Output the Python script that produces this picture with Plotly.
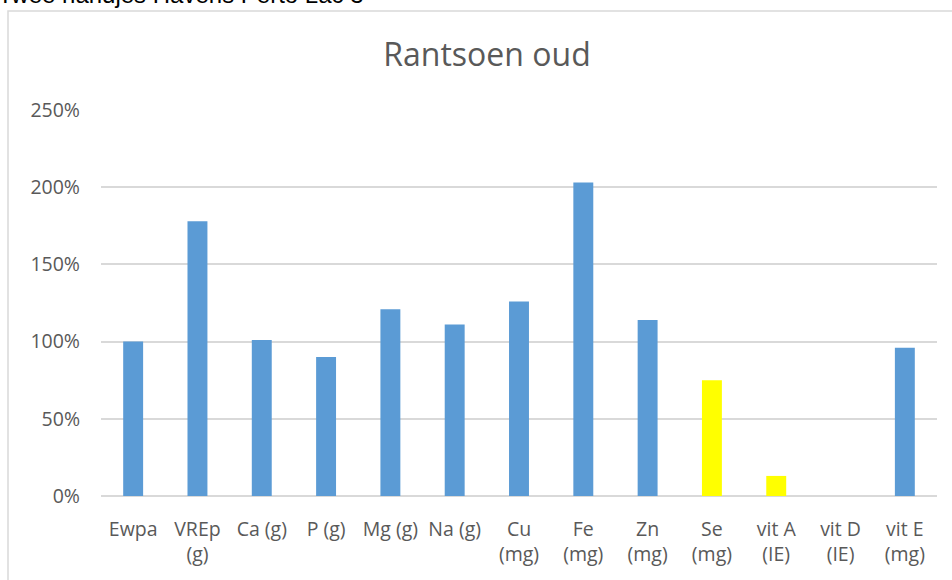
import plotly.graph_objects as go

categories = ["Ewpa", "VREp<br>(g)", "Ca (g)", "P (g)", "Mg (g)", "Na (g)", "Cu<br>(mg)",
              "Fe<br>(mg)", "Zn<br>(mg)", "Se<br>(mg)", "vit A<br>(IE)", "vit D<br>(IE)", "vit E<br>(mg)"]
values = [1.00, 1.78, 1.01, 0.90, 1.21, 1.11, 1.26, 2.03, 1.14, 0.75, 0.13, 0.0, 0.96]
highlighted = ["Se<br>(mg)", "vit A<br>(IE)", "vit D<br>(IE)"]
y_ticks = [0, 0.5, 1.0, 1.5, 2.0, 2.5]
title_text = "Rantsoen oud"
clipped_heading = "Twee handjes Havens Perto Lac 3"

W, H = 952, 580
L, R, T, B = 101, 15, 110, 84
pw, ph = W - L - R, H - T - B

def px(x):
    return (x - L) / pw

def py(y):
    return (H - B - y) / ph

BLUE = "#5b9bd5"
YELLOW = "#ffff00"
colors = [YELLOW if c in highlighted else BLUE for c in categories]
FONT = "Open Sans"

fig = go.Figure(go.Bar(x=categories, y=values, marker=dict(color=colors, line=dict(width=0))))

fig.update_layout(
    width=W, height=H,
    margin=dict(l=L, r=R, t=T, b=B, autoexpand=False),
    paper_bgcolor="white", plot_bgcolor="white",
    bargap=0.69,
    showlegend=False,
    title=dict(text=title_text, x=487 / W, xanchor="center", y=1 - 55 / H, yanchor="middle",
               font=dict(family=FONT, size=32, color="#595959")),
    font=dict(family=FONT, color="#595959"),
    xaxis=dict(showgrid=False, showline=False, ticks="", tickfont=dict(size=19.5, color="#595959"),
               tickangle=0, ticklabelstandoff=19),
    yaxis=dict(range=[0, 2.5], tickvals=y_ticks, tickformat=".0%", showgrid=True,
               gridcolor="#d9d9d9", gridwidth=1.5, zeroline=True, zerolinecolor="#d9d9d9",
               zerolinewidth=1.8, showline=False, ticks="", ticklabelstandoff=20,
               tickfont=dict(size=19.5, color="#595959")),
    shapes=[dict(type="rect", xref="paper", yref="paper", x0=px(8), x1=px(980), y0=py(620), y1=py(11),
                 line=dict(color="#d9d9d9", width=1.5), fillcolor="rgba(0,0,0,0)", layer="below")],
    annotations=[dict(text=clipped_heading, xref="paper", yref="paper", x=px(-4), y=py(10),
                      xanchor="left", yanchor="bottom", showarrow=False,
                      font=dict(family="Liberation Sans", size=24, color="#000000"))],
)

fig.write_html("out.html", config={"displayModeBar": False},
               post_script="document.body.style.margin='0';")
